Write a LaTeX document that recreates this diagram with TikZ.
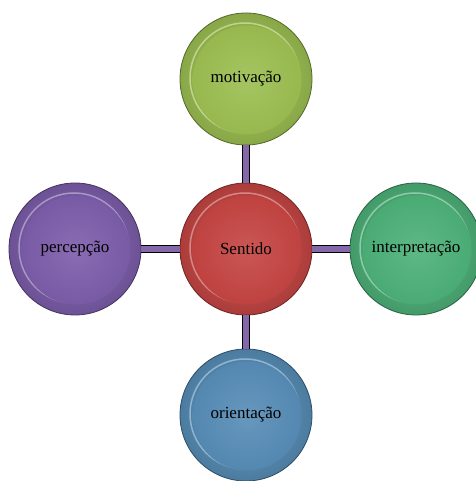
\documentclass[tikz,border=0pt]{standalone}
\usepackage{fontspec}
\setmainfont{Liberation Serif}
\usepackage{tikz}

\definecolor{redball}{RGB}{196,68,66}
\definecolor{oliveball}{RGB}{155,190,80}
\definecolor{jadeball}{RGB}{76,176,120}
\definecolor{steelball}{RGB}{86,140,182}
\definecolor{plumball}{RGB}{124,92,170}
\definecolor{linkcol}{RGB}{132,104,170}

\begin{document}
\begin{tikzpicture}[x=1pt, y=1pt, node distance=170pt, semithick,
    every node/.style={font=\fontsize{17}{19}\selectfont}]

  \tikzstyle{ball}=[circle, minimum size=132pt, inner sep=0pt,
    draw=#1!55!black, line width=0.8pt,
    outer color=#1!88!black, inner color=#1!85!white,
    path picture={
      \draw[#1!65!white, line width=1.5pt]
        ([shift={(-1pt,1pt)}]path picture bounding box.center) circle (55pt);
      \shade[inner color=#1!90!white, outer color=#1!97!black]
        ([shift={(1pt,-1pt)}]path picture bounding box.center) circle (54.5pt);
    }]
  \tikzstyle{link}=[double=linkcol, double distance=6pt, line width=1pt, black]

  \useasboundingbox (0,0) rectangle (475,481);

  \node[ball=redball] (SENT) at (246,232) {Sentido};
  \node[ball=oliveball] (MOTIV) [above of=SENT] {motivação};
  \node[ball=steelball] (ORIENT) [below of=SENT, yshift=4pt] {orientação};
  \node[ball=plumball] (PERCEP) [left of=SENT, xshift=-1pt] {percepção};
  \node[ball=jadeball] (INTERP) [right of=SENT] {interpretação};

  \draw[link] (SENT) -- (MOTIV);
  \draw[link] (SENT) -- (ORIENT);
  \draw[link] (SENT) -- (PERCEP);
  \draw[link] (SENT) -- (INTERP);
\end{tikzpicture}
\end{document}
